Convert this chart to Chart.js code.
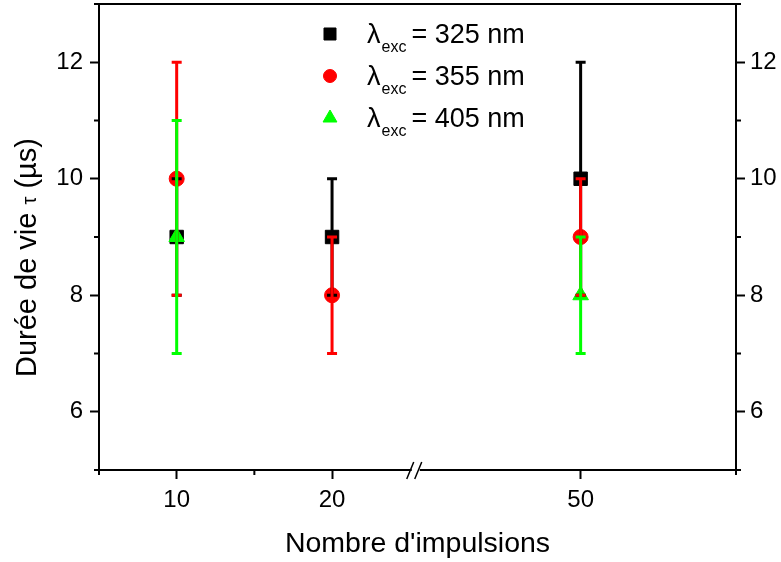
<!DOCTYPE html>
<html>
<head>
<meta charset="utf-8">
<script src="https://cdn.jsdelivr.net/npm/chart.js"></script>
<style>
  body { margin: 0; background: #fff; }
</style>
</head>
<body>
<canvas id="lifetime-chart" width="781" height="562"></canvas>
<script>
// nombre d'impulsions (categories)
const impulsions = [10, 20, 50];
const wavelengths = [325, 355, 405];
// durée de vie tau (µs) + barres d'erreur
const tau325 = [9, 9, 10];
const err325 = [1, 1, 2];
const tau355 = [10, 8, 9];
const err355 = [2, 1, 1];
const tau405 = [9, null, 8];
const err405 = [2, null, 1];
// ticks
const xTickLabels = [10, 20, 50];
const xMinor = [5, 15, 60];
const yTickLabels = [6, 8, 10, 12];
const yMinor = [5, 7, 9, 11, 13];

const colors = ['#000000', '#ff0000', '#00ff00'];
const styles = ['rect', 'circle', 'triangle'];
const radii = [9.5, 7.5, 9];
const family = '"Liberation Sans", Arial, sans-serif';

// axe x coupé entre 25 et 39
const breakFrom = 25, breakTo = 39;
function toAxis(v) { return v > breakFrom ? v - (breakTo - breakFrom) : v; }
function fromAxis(v) { return v > breakFrom ? v + (breakTo - breakFrom) : v; }

const series = [[tau325, err325], [tau355, err355], [tau405, err405]];

const datasets = series.map(function(s, i) {
  const pts = [];
  impulsions.forEach(function(x, j) {
    if (s[0][j] != null) pts.push({ x: toAxis(x), y: s[0][j], err: s[1][j] });
  });
  return {
    label: 'λexc = ' + wavelengths[i] + ' nm',
    data: pts,
    backgroundColor: colors[i],
    borderColor: colors[i],
    borderWidth: 1,
    pointStyle: styles[i],
    pointRadius: radii[i],
    order: 3 - i,
  };
});

const errorBars = {
  id: 'errorBars',
  afterDatasetsDraw(chart) {
    const ctx = chart.ctx, xs = chart.scales.x, ys = chart.scales.y;
    chart.data.datasets.forEach(function(ds) {
      ctx.save();
      ctx.strokeStyle = ds.borderColor;
      ctx.lineWidth = 3;
      ds.data.forEach(function(p) {
        const px = xs.getPixelForValue(p.x);
        const top = ys.getPixelForValue(p.y + p.err);
        const bot = ys.getPixelForValue(p.y - p.err);
        ctx.beginPath();
        ctx.moveTo(px, top); ctx.lineTo(px, bot);
        ctx.moveTo(px - 5, top); ctx.lineTo(px + 5, top);
        ctx.moveTo(px - 5, bot); ctx.lineTo(px + 5, bot);
        ctx.stroke();
      });
      ctx.restore();
    });
  }
};

const frame = {
  id: 'frame',
  afterDraw(chart) {
    const ctx = chart.ctx, a = chart.chartArea;
    const xs = chart.scales.x, ys = chart.scales.y;
    ctx.save();
    ctx.strokeStyle = '#000';
    ctx.lineWidth = 2;
    // top border
    ctx.beginPath();
    ctx.moveTo(a.left - 1, a.top); ctx.lineTo(a.right + 1, a.top);
    ctx.stroke();
    // minor ticks
    ctx.beginPath();
    xMinor.forEach(function(v) {
      const px = xs.getPixelForValue(toAxis(v));
      ctx.moveTo(px, a.bottom); ctx.lineTo(px, a.bottom + 5);
    });
    yMinor.forEach(function(v) {
      const py = ys.getPixelForValue(v);
      ctx.moveTo(a.left - 5, py); ctx.lineTo(a.left, py);
      ctx.moveTo(a.right, py); ctx.lineTo(a.right + 5, py);
    });
    ctx.stroke();
    // axis break
    const bx = xs.getPixelForValue(breakFrom) + 6;
    ctx.fillStyle = '#fff';
    ctx.fillRect(bx - 4, a.bottom - 2, 8, 4);
    ctx.lineWidth = 1.5;
    ctx.beginPath();
    ctx.moveTo(bx - 9, a.bottom + 9); ctx.lineTo(bx - 2, a.bottom - 8);
    ctx.moveTo(bx - 1, a.bottom + 9); ctx.lineTo(bx + 6, a.bottom - 8);
    ctx.stroke();
    // y title, tau in a smaller font
    ctx.translate(36, 377);
    ctx.rotate(-Math.PI / 2);
    ctx.fillStyle = '#000';
    ctx.textBaseline = 'alphabetic';
    let tx = 0;
    [['Durée de vie ', 29], ['τ', 20], [' (µs)', 29]].forEach(function(part) {
      ctx.font = part[1] + 'px ' + family;
      ctx.fillText(part[0], tx, 0);
      tx += ctx.measureText(part[0]).width;
    });
    ctx.restore();
  }
};

const legendBox = {
  id: 'legendBox',
  afterDraw(chart) {
    const ctx = chart.ctx, a = chart.chartArea;
    const x0 = a.left + 231, y0 = a.top + 30, step = 42;
    chart.data.datasets.forEach(function(ds, i) {
      const cy = y0 + i * step;
      ctx.save();
      ctx.fillStyle = ds.backgroundColor;
      ctx.strokeStyle = ds.borderColor;
      ctx.lineWidth = 1;
      Chart.helpers.drawPoint(ctx, { pointStyle: ds.pointStyle, radius: ds.pointRadius - 1, rotation: 0, borderWidth: 1 }, x0, cy);
      ctx.fillStyle = '#000';
      ctx.textBaseline = 'alphabetic';
      let tx = x0 + 37;
      ctx.font = '27px ' + family;
      ctx.fillText('λ', tx, cy + 9);
      tx += ctx.measureText('λ').width + 1;
      ctx.font = '16px ' + family;
      ctx.fillText('exc', tx, cy + 18);
      tx += ctx.measureText('exc').width + 5;
      ctx.font = '27px ' + family;
      ctx.fillText('= ' + wavelengths[i] + ' nm', tx, cy + 9);
      ctx.restore();
    });
  }
};

const yAxis = function(pos, width, pad) {
  return {
    type: 'linear',
    position: pos,
    min: 5,
    max: 13,
    afterBuildTicks: function(axis) { axis.ticks = yTickLabels.map(function(v) { return { value: v }; }); },
    afterFit: function(axis) { axis.width = width; axis.paddingTop = 0; axis.paddingBottom = 0; },
    grid: { drawOnChartArea: false, tickLength: 9, tickWidth: 2, tickColor: '#000' },
    border: { color: '#000', width: 2 },
    ticks: { color: '#000', font: { size: 24, family: family }, padding: pad },
  };
};

const ctx = document.getElementById('lifetime-chart');
const myChart = new Chart(ctx, {
  type: 'scatter',
  data: { datasets: datasets },
  options: {
    responsive: false,
    animation: false,
    layout: { autoPadding: false, padding: { top: 4 } },
    plugins: {
      legend: { display: false },
      tooltip: { enabled: false },
    },
    scales: {
      x: {
        type: 'linear',
        min: toAxis(5),
        max: toAxis(60),
        afterBuildTicks: function(axis) { axis.ticks = xTickLabels.map(function(v) { return { value: toAxis(v) }; }); },
        afterFit: function(axis) { axis.height = 92; axis.paddingLeft = 0; axis.paddingRight = 0; },
        grid: { drawOnChartArea: false, tickLength: 9, tickWidth: 2, tickColor: '#000' },
        border: { color: '#000', width: 2 },
        ticks: {
          color: '#000',
          font: { size: 24, family: family },
          padding: 7,
          maxRotation: 0,
          callback: function(value) { return String(fromAxis(value)); }
        },
        title: {
          display: true,
          text: "Nombre d'impulsions",
          color: '#000',
          font: { size: 28.5, family: family },
          padding: { top: 0, bottom: 1 }
        }
      },
      y: yAxis('left', 99, 7),
      y2: yAxis('right', 45, 5),
    }
  },
  plugins: [errorBars, frame, legendBox]
});
</script>
</body>
</html>
